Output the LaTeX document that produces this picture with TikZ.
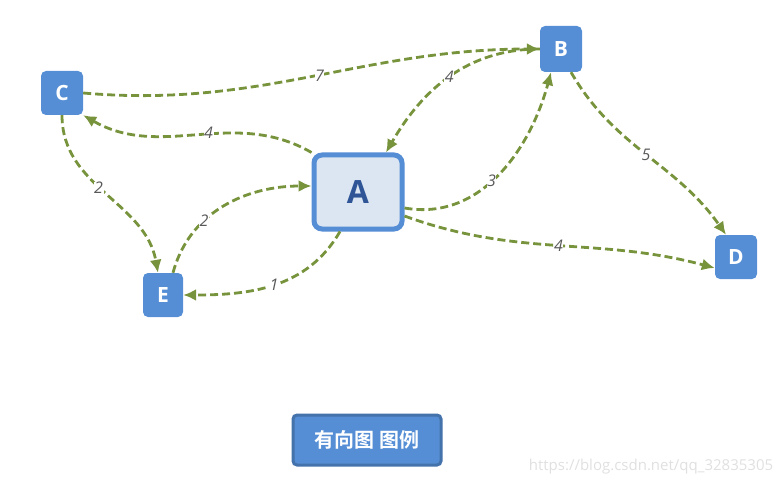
\documentclass[tikz,border=0pt]{standalone}
\usepackage{fontspec}
\setsansfont{Open Sans}
\newfontfamily\cjk{Noto Sans CJK SC}[BoldFont={Noto Sans CJK SC Bold}]
\usetikzlibrary{arrows.meta}
\definecolor{nodeblue}{HTML}{558ED5}
\definecolor{edgegreen}{HTML}{77933C}
\definecolor{afill}{HTML}{DCE6F2}
\definecolor{atext}{HTML}{2F5597}
\tikzset{
    vertex/.style={rounded corners=5pt, fill=nodeblue, text=white,
    	font=\sffamily\bfseries\fontsize{21}{24}\selectfont,
    	minimum width=42pt, minimum height=44pt},
    arc/.style={draw=edgegreen, line width=2.8pt, dash pattern=on 8pt off 4pt,
    	-{Latex[length=13pt,width=12pt]}},
    weight/.style={font=\sffamily\itshape\fontsize{16}{18}\selectfont,
    	text=black!65, fill=white, inner sep=0.5pt}
}
\begin{document}
\begin{tikzpicture}[x=1pt,y=-1pt]
  \useasboundingbox (0,0) rectangle (783,486);
  \node (C) [vertex] at (62,93) {C};
  \node (B) [vertex, minimum height=46pt] at (561,49) {B};
  \node (D) [vertex] at (736,257) {D};
  \node (E) [vertex, minimum width=40pt] at (163,295) {E};
  \node (A) [rounded corners=8pt, draw=nodeblue, line width=5pt, fill=afill,
    text=atext, font=\sffamily\bfseries\fontsize{32}{36}\selectfont,
    minimum width=88pt, minimum height=74pt] at (358,192) {A};
  \node (legend) [rounded corners=4pt, draw=nodeblue!80!black, line width=3pt,
    fill=nodeblue, text=white, font=\cjk\bfseries\fontsize{20}{24}\selectfont,
    minimum width=148pt, minimum height=50pt] at (367,440) {有向图 图例};
  \node (mark) [text=black!12, font=\sffamily\fontsize{15}{18}\selectfont]
    at (651,467) {https://blog.csdn.net/qq\_32835305};

  \draw [arc] (C.east) to[out=-5,in=180]
    node[weight, pos=0.52] {7} (B.west);
  \draw [arc] (A.north west) to[out=150,in=-30]
    node[weight, pos=0.45] {4} (C.south east);
  \draw [arc] (C.south) to[out=-90,in=100]
    node[weight, pos=0.45] {2} ([xshift=-5pt]E.north);
  \draw [arc] ([xshift=10pt]E.north) to[out=75,in=180]
    node[weight, pos=0.35] {2} ([yshift=6pt]A.west);
  \draw [arc] ([xshift=-18pt]A.south) to[out=-120,in=0]
    node[weight, pos=0.5] {1} (E.east);
  \draw [arc] (B.west) to[out=180,in=60]
    node[weight, pos=0.5] {4} ([xshift=28pt]A.north);
  \draw [arc] ([yshift=-16pt]A.east) to[out=-10,in=-105]
    node[weight, pos=0.45] {3} ([xshift=-10pt]B.south);
  \draw [arc] ([yshift=-24pt]A.east) to[out=-20,in=165]
    node[weight, pos=0.5] {4} ([yshift=-11pt]D.west);
  \draw [arc] ([xshift=10pt]B.south) to[out=-60,in=125]
    node[weight, pos=0.5] {5} ([xshift=-10pt]D.north);
\end{tikzpicture}
\end{document}
